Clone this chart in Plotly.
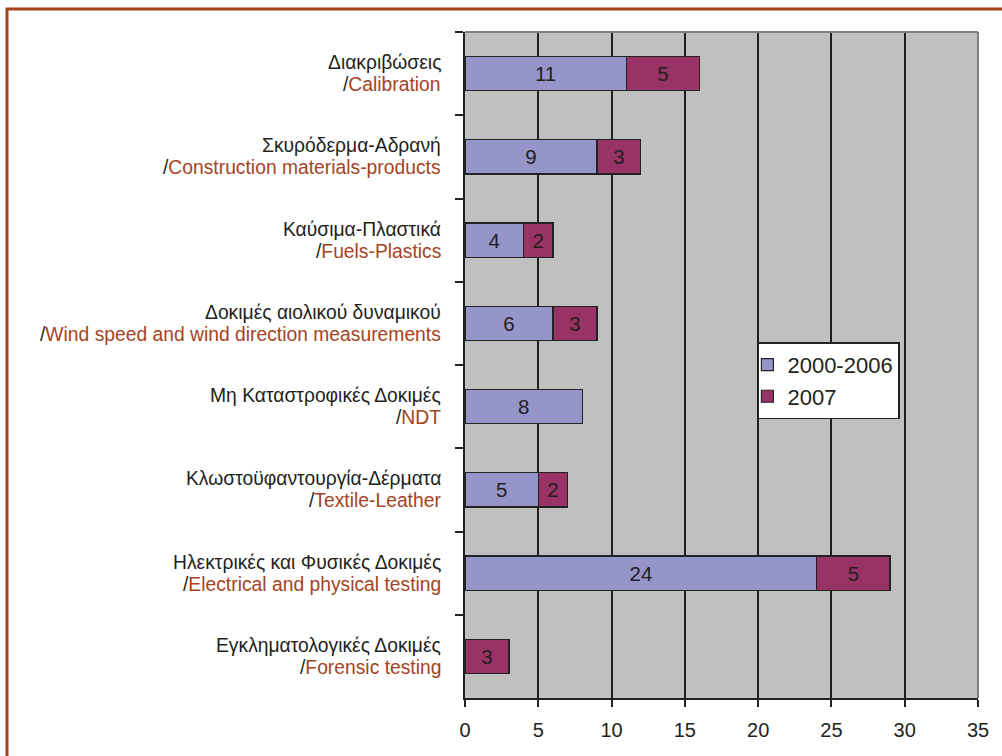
import plotly.graph_objects as go

greek = ["Διακριβώσεις", "Σκυρόδερμα-Αδρανή", "Καύσιμα-Πλαστικά", "Δοκιμές αιολικού δυναμικού",
         "Μη Καταστροφικές Δοκιμές", "Κλωστοϋφαντουργία-Δέρματα", "Ηλεκτρικές και Φυσικές Δοκιμές",
         "Εγκληματολογικές Δοκιμές"]
english = ["Calibration", "Construction materials-products", "Fuels-Plastics",
           "Wind speed and wind direction measurements", "NDT", "Textile-Leather",
           "Electrical and physical testing", "Forensic testing"]
s2000_2006 = [11, 9, 4, 6, 8, 5, 24, None]
s2007 = [5, 3, 2, 3, None, 2, 5, 3]
xticks = [0, 5, 10, 15, 20, 25, 30, 35]

BROWN = "#A5431E"
DARK = "#231F20"
cats = english  # category keys

def txt(vals):
    return [str(v) if v is not None else "" for v in vals]

fig = go.Figure()
fig.add_trace(go.Bar(y=cats, x=s2000_2006, name="2000-2006", orientation="h", legendgroup="a",
                     marker=dict(color="#9595C9", line=dict(color="#222222", width=1.2)),
                     text=txt(s2000_2006), textposition="inside", insidetextanchor="middle",
                     textfont=dict(size=20.5, color=DARK), constraintext="none"))
fig.add_trace(go.Bar(y=cats, x=s2007, name="2007", orientation="h", legendgroup="b",
                     marker=dict(color="#993366", line=dict(color="#222222", width=1.2)),
                     text=txt(s2007), textposition="inside", insidetextanchor="middle",
                     textfont=dict(size=20.5, color=DARK), constraintext="none"))

W, H = 1002, 756
fig.update_layout(
    barmode="stack", bargap=0.59,
    width=W, height=H,
    margin=dict(l=465, r=24, t=32, b=58, autoexpand=False),
    paper_bgcolor="white", plot_bgcolor="#C0C0C0",
    font=dict(family="Liberation Sans, Arial, sans-serif", color=DARK),
    legend=dict(x=0.571, y=0.534, xanchor="left", yanchor="top", traceorder="normal",
                bgcolor="white", bordercolor="#222222", borderwidth=1.5,
                font=dict(size=22, color=DARK), tracegroupgap=18, indentation=-12),
    showlegend=True,
    uniformtext=dict(mode="show", minsize=10),
)
fig.update_xaxes(range=[0, 35], tickvals=xticks, ticktext=[str(v) for v in xticks],
                 showgrid=True, gridcolor="#1E1E1E", gridwidth=1.6,
                 ticks="outside", ticklen=7, tickwidth=1.5, tickcolor="#222222",
                 showline=True, linecolor="#222222", linewidth=2,
                 tickfont=dict(size=20, color=DARK), ticklabelstandoff=6, zeroline=False)
fig.update_yaxes(autorange="reversed", categoryorder="array", categoryarray=cats,
                 ticks="outside", tickson="boundaries", ticklen=8, tickwidth=1.5,
                 tickcolor="#222222", showline=True, linecolor="#222222", linewidth=2,
                 showgrid=False, showticklabels=False)

# two-line category labels
for g, e in zip(greek, english):
    fig.add_annotation(xref="paper", yref="y", x=-0.0429, y=e, xanchor="right", yanchor="middle",
                       text=g, showarrow=False, yshift=11, font=dict(size=19.3, color=DARK))
    fig.add_annotation(xref="paper", yref="y", x=-0.0429, y=e, xanchor="right", yanchor="middle",
                       text=f"/<span style='color:{BROWN}'>{e}</span>", showarrow=False, yshift=-11,
                       font=dict(size=19.3, color=DARK))

# grey top/right border of plot area
fig.add_shape(type="line", xref="paper", yref="paper", x0=0, x1=1, y0=1, y1=1,
              line=dict(color="#808080", width=2))
fig.add_shape(type="line", xref="paper", yref="paper", x0=1, x1=1, y0=0, y1=1,
              line=dict(color="#808080", width=2))
# brown outer frame
fig.add_shape(type="rect", xref="paper", yref="paper", x0=-0.8928, x1=1.2, y0=-0.3, y1=1.0345,
              line=dict(color=BROWN, width=3), fillcolor="rgba(0,0,0,0)", layer="above")

fig.write_html("out.html", config={"displayModeBar": False},
               post_script="document.body.style.margin='0';")
